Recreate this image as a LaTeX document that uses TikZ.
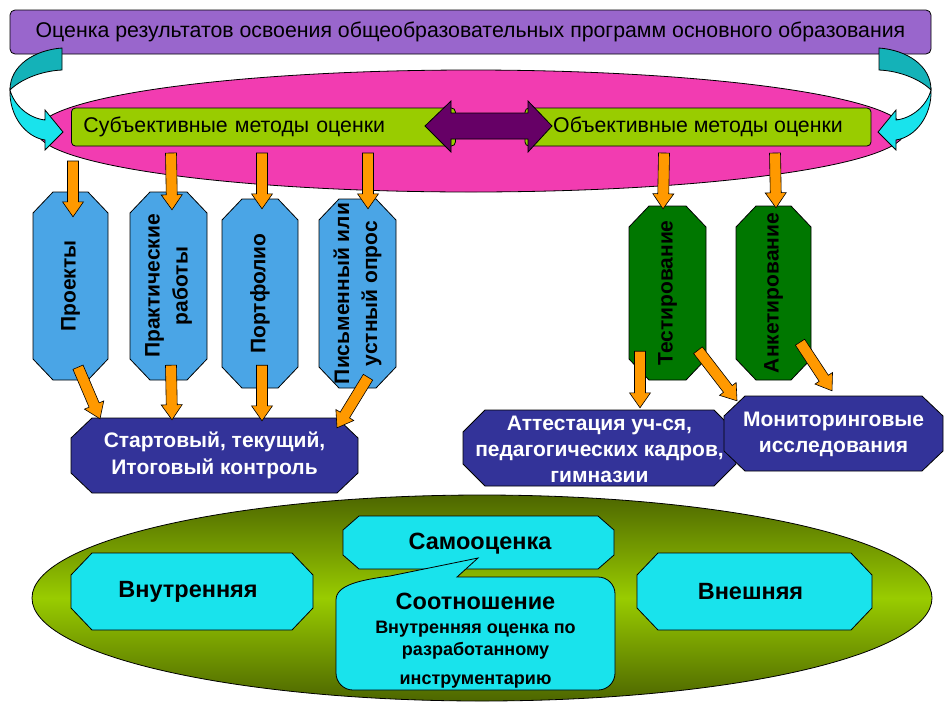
\documentclass[tikz,border=0pt]{standalone}
\usepackage{fontspec}
\setmainfont{Liberation Sans}
\usetikzlibrary{positioning, shapes.geometric, calc}

\definecolor{titlec}{RGB}{153,102,204}
\definecolor{pinkc}{RGB}{242,60,177}
\definecolor{limec}{RGB}{153,204,0}
\definecolor{purplec}{RGB}{102,0,102}
\definecolor{orangec}{RGB}{255,153,0}
\definecolor{bluec}{RGB}{74,165,230}
\definecolor{greenc}{RGB}{0,119,0}
\definecolor{navyc}{RGB}{51,51,153}
\definecolor{cyanc}{RGB}{25,227,236}
\definecolor{tealc}{RGB}{20,178,184}
\definecolor{olivec}{RGB}{77,102,0}

\tikzset{
  octline/.style={draw=black, line width=0.8pt},
  octa/.style={rectangle, inner sep=0pt, align=center},
  vocta/.style={octa, rotate=90, font=\bfseries\fontsize{21}{28}\selectfont},
  navybox/.style={octa, text=white, font=\bfseries\fontsize{21}{26}\selectfont},
  cyanbox/.style={octa, font=\bfseries\fontsize{23.5}{26}\selectfont},
  bar/.style={rectangle, rounded corners=4pt, fill=limec, draw=black, line width=0.8pt,
    minimum height=38pt, font=\fontsize{21.3}{24}\selectfont},
  orangearrow/.style={fill=orangec, draw=black, line width=0.6pt},
}

% octagon: centre, width, height, cut x, cut y, style
\newcommand{\octagon}[6]{%
  \filldraw[#6] ($#1+(-#2/2+#4,-#3/2)$) -- ($#1+(#2/2-#4,-#3/2)$) -- ($#1+(#2/2,-#3/2+#5)$)
    -- ($#1+(#2/2,#3/2-#5)$) -- ($#1+(#2/2-#4,#3/2)$) -- ($#1+(-#2/2+#4,#3/2)$)
    -- ($#1+(-#2/2,#3/2-#5)$) -- ($#1+(-#2/2,-#3/2+#5)$) -- cycle;}

% block arrow from #1 to #2
\newcommand{\oarrow}[2]{%
  \coordinate (oa) at #1; \coordinate (ob) at #2;
  \coordinate (oh) at ($(ob)!15pt!(oa)$);
  \filldraw[orangearrow] ($(oa)!5.5pt!90:(ob)$) -- ($(oh)!5.5pt!90:(ob)$) -- ($(oh)!10.5pt!90:(ob)$)
    -- (ob) -- ($(oh)!10.5pt!-90:(ob)$) -- ($(oh)!5.5pt!-90:(ob)$) -- ($(oa)!5.5pt!-90:(ob)$) -- cycle;}

\begin{document}
\begin{tikzpicture}[x=1pt, y=-1pt]
\useasboundingbox (0,0) rectangle (944,702);

% top
\node[rectangle, rounded corners=5pt, fill=titlec, draw=black, line width=0.8pt, minimum width=921pt,
  minimum height=44pt, font=\fontsize{21.3}{24}\selectfont] (title) at (470.5,32)
  {Оценка результатов освоения общеобразовательных программ основного образования};
\filldraw[fill=pinkc, line width=0.8pt] (471,131) ellipse [x radius=434, y radius=61];
\node[bar, anchor=west, text width=360pt, align=left, inner xsep=12pt] (subj) at (71,127) {Субъективные методы оценки};
\node[bar, minimum width=346pt] (obj) at (698,127) {Объективные методы оценки};
\filldraw[fill=purplec, line width=0.8pt] (425,126) -- (451,101) -- (451,113) -- (528,113) -- (528,101)
  -- (552,126) -- (528,152) -- (528,139) -- (451,139) -- (451,152) -- cycle;

% curved arrows
\foreach \s/\t in {1/0, -1/941} {
\begin{scope}[shift={(\t,0)}, xscale=\s]
\filldraw[fill=tealc, line width=0.8pt] (62,48) .. controls (35,50) and (10,65) .. (10,90)
  .. controls (20,80) and (40,71) .. (62,70) -- cycle;
\filldraw[fill=cyanc, line width=0.8pt] (10,90) .. controls (9,115) and (25,137) .. (45,140) -- (45,150)
  -- (63,132) -- (45,110) -- (45,120) .. controls (28,118) and (14,105) .. (10,90) -- cycle;
\end{scope}
}

% methods
\octagon{(70.5,286)}{75}{188}{20}{21}{fill=bluec, octline}
\node[vocta, minimum width=188pt, minimum height=75pt] (proj) at (70.5,286) {Проекты};
\octagon{(168.5,286)}{77}{188}{20}{21}{fill=bluec, octline}
\node[vocta, minimum width=188pt, minimum height=77pt] (prak) at (168.5,286) {Практические\\работы};
\octagon{(260,293.5)}{76}{189}{20}{21}{fill=bluec, octline}
\node[vocta, minimum width=189pt, minimum height=76pt] (port) at (260,293.5) {Портфолио};
\octagon{(357.5,293.5)}{77}{189}{20}{21}{fill=bluec, octline}
\node[vocta, minimum width=189pt, minimum height=77pt] (pism) at (357.5,293.5) {Письменный или\\устный опрос};
\octagon{(667.5,293)}{77}{174}{20}{21}{fill=greenc, octline}
\node[vocta, minimum width=174pt, minimum height=77pt] (test) at (667.5,293) {Тестирование};
\octagon{(773.5,293)}{75}{174}{20}{21}{fill=greenc, octline}
\node[vocta, minimum width=174pt, minimum height=75pt] (anket) at (773.5,293) {Анкетирование};

\octagon{(214.5,455.5)}{287}{75}{21}{20}{fill=navyc, octline}
\node[navybox, minimum width=287pt, minimum height=75pt, font=\bfseries\fontsize{21}{27}\selectfont] (control)
  at (214.5,455.5) {Стартовый, текущий,\\Итоговый контроль};
\octagon{(599.5,448)}{273}{76}{22}{22}{fill=navyc, octline}
\node[navybox, minimum width=273pt, minimum height=76pt] (attest) at (599.5,449)
  {Аттестация уч-ся,\\педагогических кадров,\\гимназии};
\octagon{(833.5,433.5)}{219}{75}{21}{20}{fill=navyc, octline}
\node[navybox, minimum width=219pt, minimum height=75pt] (monit) at (833.5,434.5) {Мониторинговые\\исследования};

% arrows
\coordinate (u1) at (73,161); \coordinate (u2) at (171,153); \coordinate (u3) at (262,153);
\coordinate (u4) at (368,153); \coordinate (u5) at (664,153); \coordinate (u6) at (775,153);
\oarrow{(u1)}{($(proj.east)+(2.5,25)$)}
\oarrow{(u2)}{($(prak.east)+(3.5,18)$)}
\oarrow{(u3)}{($(port.east)+(2,10)$)}
\oarrow{(u4)}{($(pism.east)+(10.5,10)$)}
\oarrow{(u5)}{($(test.east)+(-4.5,3)$)}
\oarrow{(u6)}{($(anket.east)+(2.5,2)$)}
\oarrow{($(proj.west)+(7.5,-13)$)}{($(control.north)+(-114.5,1)$)}
\oarrow{($(prak.west)+(2.5,-15)$)}{($(control.north)+(-42.5,2)$)}
\oarrow{($(port.west)+(2,-23)$)}{($(control.north)+(47.5,3)$)}
\oarrow{($(pism.west)+(10.5,-11)$)}{($(control.north)+(122.5,10)$)}
\oarrow{($(test.west)+(-27.5,-29)$)}{($(attest.north)+(40.5,-3)$)}
\oarrow{($(test.west)+(30.5,-30)$)}{($(monit.north)+(-96.5,4)$)}
\oarrow{($(anket.west)+(26.5,-38)$)}{($(monit.north)+(-1.5,-6)$)}

% bottom
\shadedraw[top color=olivec, bottom color=olivec, middle color=limec, line width=0.8pt]
  (482,598) ellipse [x radius=450, y radius=103];
\octagon{(192,591.5)}{242}{77}{21}{22}{fill=cyanc, octline}
\node[cyanbox, minimum width=242pt, minimum height=77pt] (vnutr) at (188,592) {Внутренняя};
\octagon{(478.5,542.5)}{271}{53}{16}{14}{fill=cyanc, octline}
\node[cyanbox, minimum width=271pt, minimum height=53pt] (samo) at (480,544) {Самооценка};
\octagon{(754.5,591.5)}{235}{77}{21}{22}{fill=cyanc, octline}
\node[cyanbox, minimum width=235pt, minimum height=77pt] (vnesh) at (750.5,592) {Внешняя};
\filldraw[fill=cyanc, line width=0.8pt] (478,558) -- (457,577) -- (598,577) to[out=0,in=90] (615,594)
  -- (615,673) to[out=-90,in=0] (598,690) -- (353,690) to[out=180,in=-90] (336,673) -- (336,600)
  .. controls (336,585) and (360,580) .. (390,576) -- cycle;
\node[align=center, font=\bfseries\fontsize{18}{22}\selectfont] (soot) at (475.5,641)
  {{\fontsize{23.5}{22}\selectfont Соотношение}\\[2pt]Внутренняя оценка по\\разработанному\\[7pt]инструментарию};
\end{tikzpicture}
\end{document}
